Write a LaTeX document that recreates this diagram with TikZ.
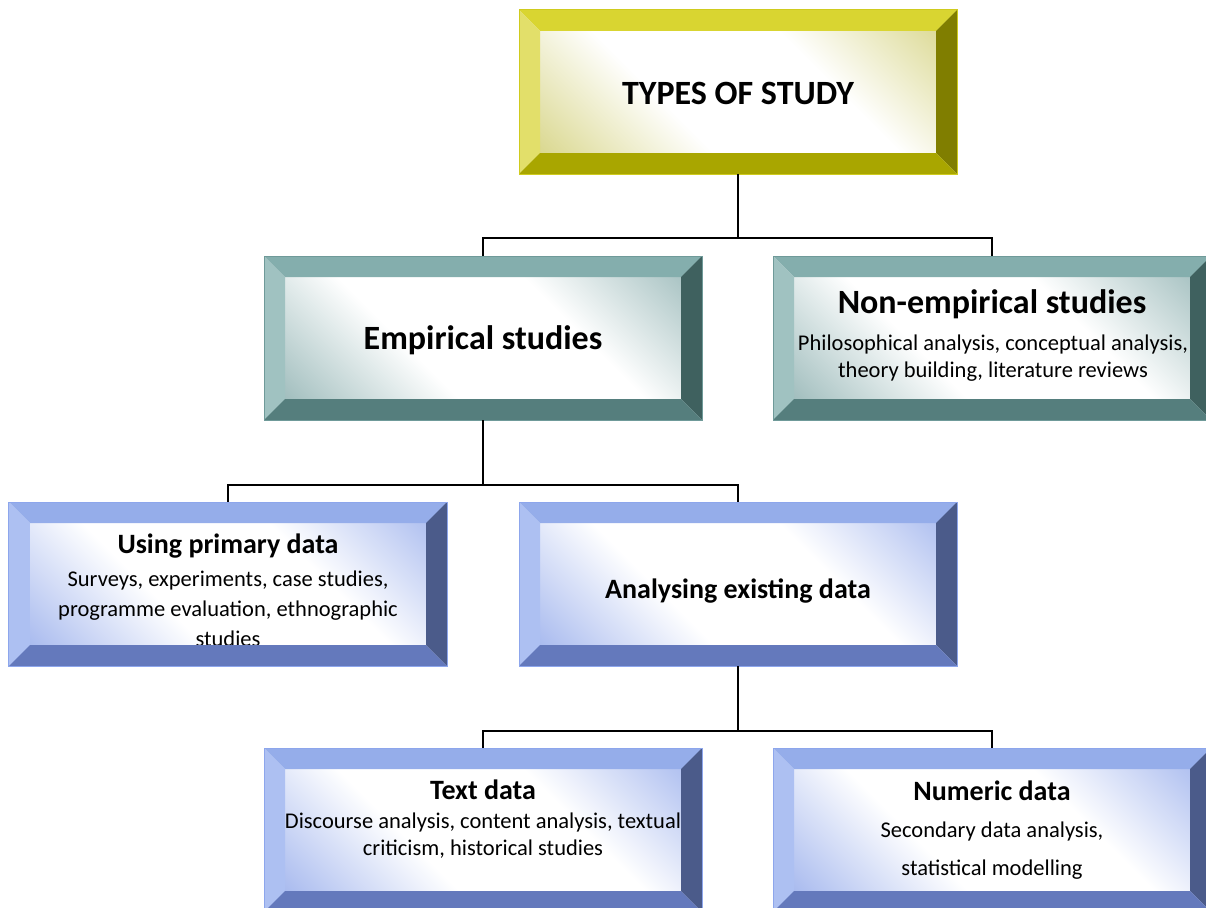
\documentclass[tikz,border=0pt]{standalone}
\usepackage{fontspec}
\setmainfont{Carlito}
\definecolor{yeltop}{HTML}{D9D531}
\definecolor{yelleft}{HTML}{E2DF6A}
\definecolor{yelright}{HTML}{807E00}
\definecolor{yelbottom}{HTML}{A9A600}
\definecolor{yelline}{HTML}{CFCB1E}
\definecolor{yelin}{HTML}{CFCC6E}
\definecolor{teatop}{HTML}{84AEAD}
\definecolor{tealeft}{HTML}{A0C2C1}
\definecolor{tearight}{HTML}{3F615F}
\definecolor{teabottom}{HTML}{557E7D}
\definecolor{tealine}{HTML}{6F9A99}
\definecolor{teain}{HTML}{86ABAB}
\definecolor{blutop}{HTML}{95ADEA}
\definecolor{bluleft}{HTML}{ADC0F2}
\definecolor{bluright}{HTML}{4B5B8A}
\definecolor{blubottom}{HTML}{6479BC}
\definecolor{bluline}{HTML}{8DA6EC}
\definecolor{bluin}{HTML}{90A7EA}
\pgfdeclarehorizontalshading{yelshade}{100bp}{color(0bp)=(yelin); color(16bp)=(yelin!90!white); color(40bp)=(white); color(62bp)=(white); color(86bp)=(yelin!90!white); color(100bp)=(yelin)}
\pgfdeclarehorizontalshading{teashade}{100bp}{color(0bp)=(teain); color(16bp)=(teain!90!white); color(40bp)=(white); color(62bp)=(white); color(86bp)=(teain!90!white); color(100bp)=(teain)}
\pgfdeclarehorizontalshading{blushade}{100bp}{color(0bp)=(bluin); color(16bp)=(bluin!90!white); color(40bp)=(white); color(62bp)=(white); color(86bp)=(bluin!90!white); color(100bp)=(bluin)}
\newcommand{\drawbevels}[2]{%
  \fill[#2top] (#1.north west) -- (#1.north east) -- ([shift={(-21,21)}]#1.north east) -- ([shift={(21,21)}]#1.north west) -- cycle;
  \fill[#2left] (#1.north west) -- ([shift={(21,21)}]#1.north west) -- ([shift={(21,-21)}]#1.south west) -- (#1.south west) -- cycle;
  \fill[#2right] (#1.north east) -- (#1.south east) -- ([shift={(-21,-21)}]#1.south east) -- ([shift={(-21,21)}]#1.north east) -- cycle;
  \fill[#2bottom] (#1.south west) -- ([shift={(21,-21)}]#1.south west) -- ([shift={(-21,-21)}]#1.south east) -- (#1.south east) -- cycle;
  \draw[#2line, line width=1bp] (#1.north west) rectangle (#1.south east);
}
\tikzset{
  box/.style={rectangle, minimum width=438bp, minimum height=164bp, inner sep=0pt, outer sep=0pt, shading angle=45},
  ylwbox/.style={box, shading=yelshade},
  teabox/.style={box, shading=teashade},
  blubox/.style={box, shading=blushade},
  ttl/.style={anchor=base, inner sep=0pt, font=\fontsize{34bp}{40bp}\selectfont\bfseries},
  sub/.style={anchor=base, inner sep=0pt, font=\fontsize{28bp}{34bp}\selectfont\bfseries},
  body/.style={anchor=base, inner sep=0pt, font=\fontsize{22.5bp}{27bp}\selectfont},
  conn/.style={draw=black, line width=1.8bp},
}
\begin{document}
\begin{tikzpicture}[x=1bp,y=-1bp]
\useasboundingbox (0,0) rectangle (1206,908);
\clip (0,0) rectangle (1206,908);
\fill[white] (0,0) rectangle (1206,908);
\coordinate (bus1) at (0,238);
\coordinate (bus2) at (0,485);
\coordinate (bus3) at (0,731);
% top
\node[ylwbox] (types) at (738,92) {};
\node[ttl] (typest) at (738,104) {TYPES OF STUDY};
\drawbevels{types}{yel}
% empirical
\node[teabox] (emp) at (483,338) {};
\node[ttl] (empt) at (483,349) {Empirical studies};
\drawbevels{emp}{tea}
% non-empirical
\node[teabox] (nonemp) at (992,338) {};
\node[ttl] (nonempt) at (992,313) {Non-empirical studies};
\node[body] (nonemp1) at (993,350) {Philosophical analysis, conceptual analysis,};
\node[body] (nonemp2) at (993,377) {theory building, literature reviews};
\drawbevels{nonemp}{tea}
% primary
\node[blubox] (prim) at (228,584) {};
\node[sub] (primt) at (228,553) {Using primary data};
\node[body] (prim1) at (228,586) {Surveys, experiments, case studies,};
\node[body] (prim2) at (228,616) {programme evaluation, ethnographic};
\node[body] (prim3) at (228,646) {studies};
\drawbevels{prim}{blu}
% analysing
\node[blubox] (anal) at (738,584) {};
\node[sub] (analt) at (738,598) {Analysing existing data};
\drawbevels{anal}{blu}
% text data
\node[blubox] (text) at (483,830) {};
\node[sub] (textt) at (483,799) {Text data};
\node[body] (text1) at (483,828) {Discourse analysis, content analysis, textual};
\node[body] (text2) at (483,855) {criticism, historical studies};
\drawbevels{text}{blu}
% numeric
\node[blubox] (num) at (992,830) {};
\node[sub] (numt) at (992,800) {Numeric data};
\node[body] (num1) at (992,837) {Secondary data analysis,};
\node[body] (num2) at (992,875) {statistical modelling};
\drawbevels{num}{blu}
% connectors
\draw[conn] (types.south) -- (types.south |- bus1) -| (emp.north);
\draw[conn] (types.south) -- (types.south |- bus1) -| (nonemp.north);
\draw[conn] (emp.south) -- (emp.south |- bus2) -| (prim.north);
\draw[conn] (emp.south) -- (emp.south |- bus2) -| (anal.north);
\draw[conn] (anal.south) -- (anal.south |- bus3) -| (text.north);
\draw[conn] (anal.south) -- (anal.south |- bus3) -| (num.north);
\end{tikzpicture}
\end{document}
